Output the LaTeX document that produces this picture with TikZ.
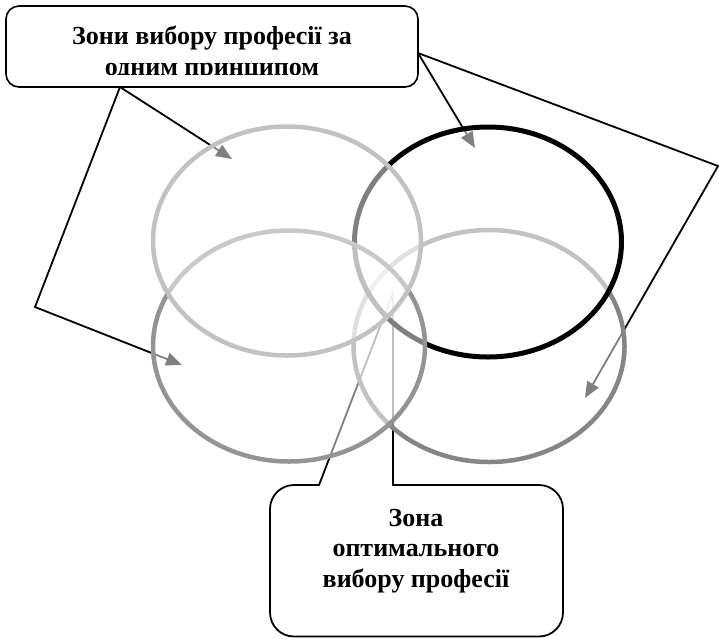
\documentclass[tikz,border=0pt]{standalone}
\usepackage{fontspec}
\setmainfont{Liberation Serif}
\usetikzlibrary{arrows.meta}
\definecolor{ringlight}{gray}{0.76}
\definecolor{ringmid}{gray}{0.58}
\definecolor{ringdark}{gray}{0.52}
\tikzstyle{ring}=[
  line width=4.5pt,
  fill=white,
  fill opacity=0.5
]
\tikzstyle{link}=[
  line width=1.8pt,
  -{Triangle[length=16pt,width=13pt]}
]
\tikzstyle{note}=[
  font=\fontsize{26}{30.5}\selectfont\bfseries,
  align=center,
  inner sep=0pt
]
\begin{document}
\begin{tikzpicture}[x=1pt,y=-1pt]
  \useasboundingbox (0,0) rectangle (719,638);

  % top label, its second line is cut by the box
  \node[draw, line width=1.6pt, rounded corners=13pt, minimum width=412pt, minimum height=81pt] (zones) at (212,46.5) {};
  \begin{scope}
    \clip (10,10) rectangle (414,74);
    \node[note, anchor=north] (zonestext) at (212,26) {Зони вибору професії за\\одним принципом};
  \end{scope}

  \coordinate (zl) at (120,87);
  \coordinate (zr) at (418,53);
  \coordinate (bend1) at (35,307);
  \coordinate (bend2) at (718,166);
  \coordinate (t1) at (182,365);
  \coordinate (t2) at (232,159);
  \coordinate (t3) at (475,148);
  \coordinate (t4) at (585,398);

  \draw[link] (zl) -- (bend1) -- (t1);
  \draw[link] (zl) -- (t2);
  \draw[link] (zr) -- (t3);
  \draw[link] (zr) -- (bend2) -- (t4);

  % bottom callout
  \coordinate (tip) at (393,293);
  \draw[line width=1.8pt, line cap=round, rounded corners=24pt] (393,485) -- (563,485) -- (563,636.5) -- (270,636.5) -- (270,485) -- (319,485);
  \draw[line width=1.8pt, line cap=round] (319,485) -- (tip) -- (393,485);
  \node[note] (optzone) at (416,551) {Зона\\оптимального\\вибору професії};

  % the four zones
  \draw[ring, draw=ringdark] (489,346) ellipse [x radius=135.5, y radius=116];
  \draw[ring, line width=5pt, draw=black] (488,242) ellipse [x radius=133.5, y radius=115];
  \draw[ring, draw=ringmid] (289,346) ellipse [x radius=136, y radius=115.5];
  \draw[ring, draw=ringlight] (287,241) ellipse [x radius=134, y radius=114.5];
\end{tikzpicture}
\end{document}
